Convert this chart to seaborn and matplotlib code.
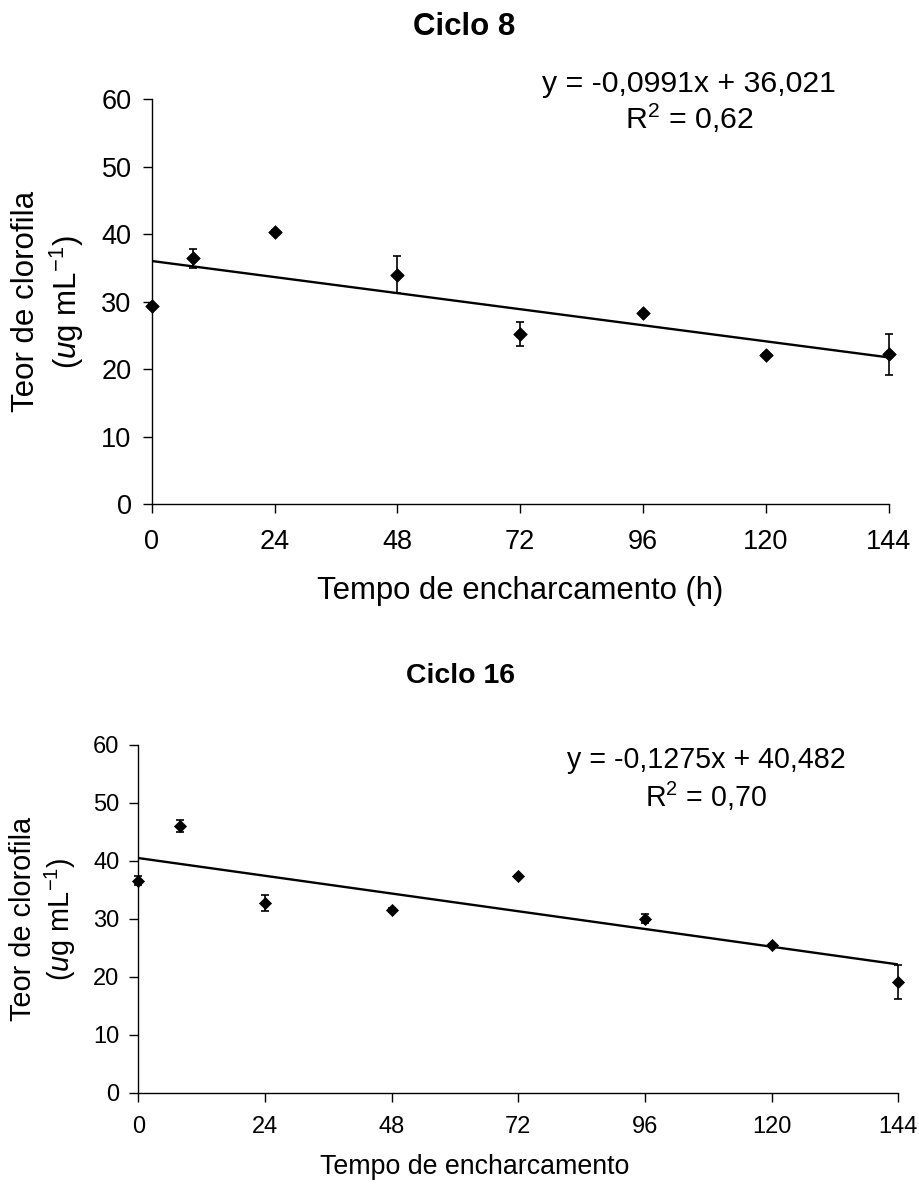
import numpy as np
import pandas as pd
import seaborn as sns
import matplotlib
matplotlib.use("Agg")
from matplotlib import pyplot as plt

# Dades llegides del gràfic
hores = [0, 8, 24, 48, 72, 96, 120, 144]
ticks_x = [0, 24, 48, 72, 96, 120, 144]
ticks_y = [0, 10, 20, 30, 40, 50, 60]

# Ciclo 8
clorofila_c8 = [29.4, 36.4, 40.3, 34.0, 25.2, 28.3, 22.1, 22.2]
erro_c8 = [0.3, 1.4, 0.3, 2.7, 1.8, 0.3, 0.3, 3.0]
coef_c8 = [-0.0991, 36.021]
eq_c8 = "y = -0,0991x + 36,021"
r2_c8 = "0,62"

# Ciclo 16
clorofila_c16 = [36.6, 46.0, 32.7, 31.5, 37.3, 30.0, 25.4, 19.1]
erro_c16 = [0.8, 1.0, 1.4, 0.3, 0.3, 0.8, 0.3, 2.9]
coef_c16 = [-0.1275, 40.482]
eq_c16 = "y = -0,1275x + 40,482"
r2_c16 = "0,70"

sns.set_style("ticks")
plt.rcParams["font.family"] = ["Liberation Sans", "DejaVu Sans"]
plt.rcParams["mathtext.fontset"] = "custom"
plt.rcParams["mathtext.rm"] = "Liberation Sans"
plt.rcParams["mathtext.it"] = "Liberation Sans:italic"
plt.rcParams["text.color"] = "black"
plt.rcParams["axes.labelcolor"] = "black"

fig = plt.figure(figsize=(9.2, 11.86), dpi=100)
ax1 = fig.add_axes([0.1649, 0.5748, 0.8009, 0.3417])
ax2 = fig.add_axes([0.1503, 0.0787, 0.8261, 0.2932])


def desenha(ax, y, err, coef, eq, r2, fs_tick, fs_lab, fs_ylab, fs_eq, xlabel,
            ms, cap, eq_pos, ylab_x, xlab_pos, pad_x, pad_y):
    df = pd.DataFrame({"h": hores, "c": y})
    ax.errorbar(df["h"], df["c"], yerr=err, fmt="none", ecolor="black",
                elinewidth=1.2, capsize=cap, capthick=1.2, clip_on=False, zorder=3)
    sns.scatterplot(data=df, x="h", y="c", marker="D", s=ms, color="black",
                    edgecolor="black", linewidth=0.5, ax=ax, clip_on=False, zorder=4)
    xl = np.array([hores[0], hores[-1]])
    sns.lineplot(x=xl, y=coef[0] * xl + coef[1], color="black", linewidth=1.7,
                 ax=ax, zorder=2)
    ax.set_xlim(0, 144)
    ax.set_ylim(0, 60)
    ax.set_xticks(ticks_x)
    ax.set_yticks(ticks_y)
    sns.despine(ax=ax)
    for s in ["left", "bottom"]:
        ax.spines[s].set_color("black")
        ax.spines[s].set_linewidth(1.0)
    ax.tick_params(axis="both", direction="out", length=6.5, width=1.0,
                   colors="black", labelsize=fs_tick)
    ax.tick_params(axis="x", pad=pad_x)
    ax.tick_params(axis="y", pad=pad_y)
    ax.set_xlabel(xlabel, fontsize=fs_lab)
    ax.xaxis.set_label_coords(*xlab_pos)
    ax.set_ylabel("Teor de clorofila\n($\\mathit{u}$g mL$^{-1}$)",
                  fontsize=fs_ylab, va="center", linespacing=1.2)
    ax.yaxis.set_label_coords(ylab_x, 0.5)
    ax.text(eq_pos[0], eq_pos[1], eq, transform=ax.transAxes, ha="center",
            va="center", fontsize=fs_eq)
    ax.text(eq_pos[0], eq_pos[2], "R$^2$ = " + r2, transform=ax.transAxes,
            ha="center", va="center", fontsize=fs_eq)


desenha(ax1, clorofila_c8, erro_c8, coef_c8, eq_c8, r2_c8,
        fs_tick=19.5, fs_lab=22.4, fs_ylab=22.5, fs_eq=21.8,
        xlabel="Tempo de encharcamento (h)",
        ms=48, cap=2.6, eq_pos=(0.729, 1.037, 0.951), ylab_x=-0.14,
        xlab_pos=(0.5, -0.178), pad_x=11, pad_y=8)
desenha(ax2, clorofila_c16, erro_c16, coef_c16, eq_c16, r2_c16,
        fs_tick=17, fs_lab=19.3, fs_ylab=20.8, fs_eq=20.6,
        xlabel="Tempo de encharcamento",
        ms=38, cap=3.0, eq_pos=(0.747, 0.957, 0.853), ylab_x=-0.125,
        xlab_pos=(0.442, -0.175), pad_x=10, pad_y=7)

fig.text(464 / 920, 1 - 27 / 1186, "Ciclo 8", ha="center", va="center",
         fontsize=22.5, fontweight="bold")
fig.text(461 / 920, 1 - 676 / 1186, "Ciclo 16", ha="center", va="center",
         fontsize=20.5, fontweight="bold")

fig.savefig("out.png", dpi=100, facecolor="white")
